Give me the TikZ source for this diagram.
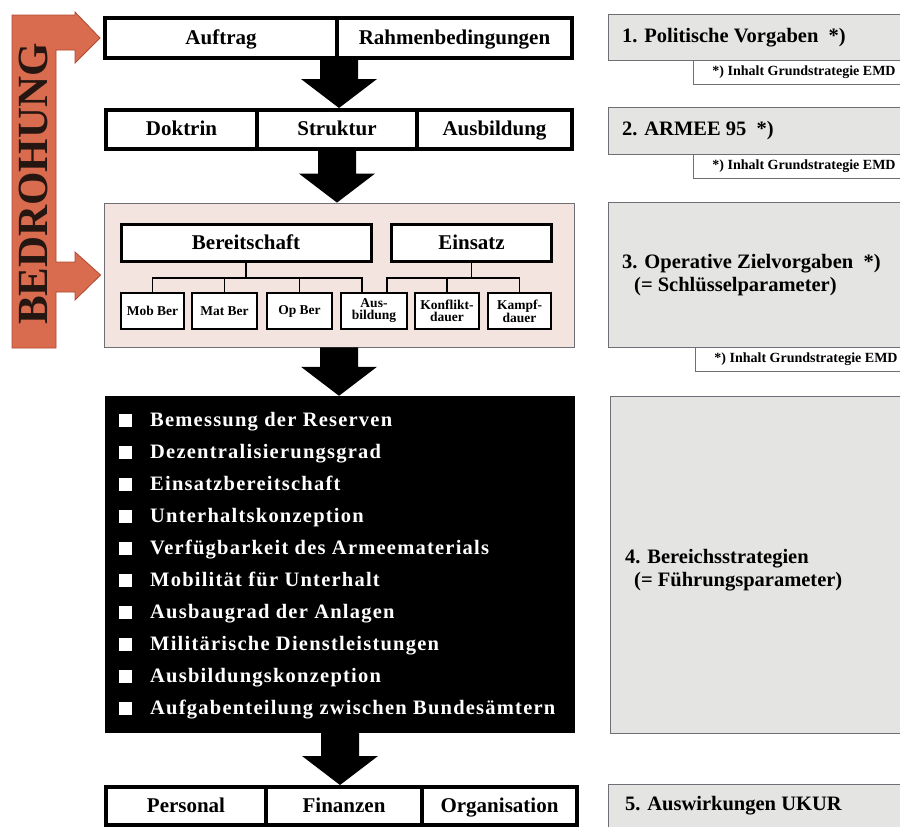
\documentclass[tikz,border=0pt]{standalone}
\usepackage{fontspec}
\setmainfont{Liberation Serif}
\newfontfamily\listfont[LetterSpace=6]{Liberation Serif}
\usetikzlibrary{calc}
\definecolor{bedrot}{HTML}{D96B4E}
\definecolor{bedrand}{HTML}{B04A33}
\definecolor{bedtext}{HTML}{261612}
\definecolor{rosa}{HTML}{F4E4E0}
\definecolor{grau}{HTML}{E4E4E2}
\definecolor{graurand}{HTML}{6E6E74}
\tikzset{
  zelle/.style={draw, line width=4pt, inner sep=0pt, fill=white, text height=15, text depth=3,
    font=\fontsize{21}{24}\selectfont\bfseries},
  oberbox/.style={zelle, line width=3pt, minimum height=37},
  klein/.style={draw, line width=2pt, inner sep=0pt, fill=white, minimum height=36,
    align=center, font=\fontsize{13.5}{12}\selectfont\bfseries},
  ast/.style={line width=1.5pt},
  panel/.style={draw=graurand, line width=0.8pt, fill=grau, anchor=north west, inner sep=0pt},
  notiz/.style={draw=graurand, line width=0.8pt, fill=white, anchor=north west, inner sep=0pt,
    minimum width=212, minimum height=24},
  paneltext/.style={anchor=west, align=left, inner sep=0pt,
    font=\fontsize{20.5}{23}\selectfont\bfseries},
  notiztext/.style={anchor=east, inner sep=0pt, font=\fontsize{14}{14}\selectfont\bfseries},
  punkt/.style={fill=white, minimum size=13, inner sep=0pt},
  listtext/.style={anchor=west, inner sep=0pt, text=white, text height=14, text depth=2,
    font=\listfont\bfseries\fontsize{20.5}{20}\selectfont}
}
\begin{document}
\begin{tikzpicture}[x=1pt,y=-1pt]
  \useasboundingbox[fill=white] (0,0) rectangle (900,827);
  % linke Spalte
  \node[zelle, minimum width=232, minimum height=40] (auftrag) at (221,38) {Auftrag};
  \node[zelle, minimum width=235, minimum height=40] (rahmen) at (454.5,38) {Rahmenbedingungen};
  \node[zelle, minimum width=151, minimum height=39] (doktrin) at (181.5,129.5) {Doktrin};
  \node[zelle, minimum width=160, minimum height=39] (struktur) at (337,129.5) {Struktur};
  \node[zelle, minimum width=155, minimum height=39] (ausbild) at (494.5,129.5) {Ausbildung};
  \node[draw=graurand, line width=0.8pt, fill=rosa, minimum width=470, minimum height=144] (pink) at (339,275) {};
  \node[oberbox, minimum width=250] (bereit) at (246,243) {Bereitschaft};
  \node[oberbox, minimum width=160] (einsatz) at (471.5,243) {Einsatz};
  \node[klein, minimum width=63] (mob) at (152.5,311) {Mob Ber};
  \node[klein, minimum width=65] (mat) at (224.5,311) {Mat Ber};
  \node[klein, minimum width=65] (op) at (299.5,311) {Op Ber};
  \node[klein, minimum width=66] (ausb) at (374,311) {Aus-\\bildung};
  \node[klein, minimum width=64] (konflikt) at (447,311) {Konflikt-\\dauer};
  \node[klein, minimum width=63] (kampf) at (519.5,311) {Kampf-\\dauer};
  \draw[ast] (bereit.south) -- ++(0,15) coordinate (bj);
  \foreach \n in {mob,mat,op}
    \draw[ast] (\n.north) |- (bj);
  \draw[ast] ([xshift=-12pt]ausb.north) |- (bj);
  \draw[ast] (einsatz.south) -- ++(0,15) coordinate (ej);
  \foreach \n in {konflikt,kampf}
    \draw[ast] (\n.north) |- (ej);
  \draw[ast] ([xshift=13pt]ausb.north) |- (ej);
  \node[fill=black, minimum width=470, minimum height=337, inner sep=0pt] (liste) at (340,564.5) {};
  \foreach \t [count=\i from 0] in {Bemessung der Reserven, Dezentralisierungsgrad,
      Einsatzbereitschaft, Unterhaltskonzeption, Verfügbarkeit des Armeematerials,
      Mobilität für Unterhalt, Ausbaugrad der Anlagen, Militärische Dienstleistungen,
      Ausbildungskonzeption, Aufgabenteilung zwischen Bundesämtern} {
    \node[punkt] (b\i) at (125,420+32.1*\i) {};
    \node[listtext] (t\i) at (150,420+32.1*\i) {\t};
  }
  \node[zelle, minimum width=160, minimum height=38] (personal) at (186,806) {Personal};
  \node[zelle, minimum width=156, minimum height=38] (finanzen) at (344,806) {Finanzen};
  \node[zelle, minimum width=155, minimum height=38] (organisation) at (499.5,806) {Organisation};
  % dicke Pfeile
  \foreach \a/\b in {auftrag.south east/struktur.north, struktur.south/pink.north,
      pink.south/liste.north, liste.south/finanzen.north}
    \fill let \p1=(\a), \p2=(\b) in
      (\x1-19pt,\y1) -- (\x1+19pt,\y1) -- (\x1+19pt,\y2+29pt) -- (\x1+38pt,\y2+29pt)
      -- (\x1,\y2) -- (\x1-38pt,\y2+29pt) -- (\x1-19pt,\y2+29pt) -- cycle;
  % Bedrohung
  \filldraw[fill=bedrot, draw=bedrand, line width=0.8pt]
    (12,15) -- (75,15) -- (75,12) -- ($(auftrag.west)+(-3,0)$) -- (75,63) -- (75,50) -- (56,50)
    -- (56,262) -- (75,262) -- (75,252) -- ($(pink.west)+(-3,0)$) -- (75,300) -- (75,292) -- (56,292)
    -- (56,348) -- (12,348) -- cycle;
  \node[rotate=90, text=bedtext, inner sep=0pt, font=\fontsize{43}{43}\selectfont\bfseries] (bedrohung) at (33,184) {BEDROHUNG};
  % rechte Spalte
  \node[panel, minimum width=297, minimum height=46] (p1) at (608,14) {};
  \node[paneltext] (p1t) at ($(p1.west)+(14,0)$) {1. Politische Vorgaben\enspace *)};
  \node[notiz] (n1) at (693,60) {};
  \node[notiztext] (n1t) at ($(n1.east)+(-10,0)$) {*) Inhalt Grundstrategie EMD};
  \node[panel, minimum width=297, minimum height=47] (p2) at (608,107) {};
  \node[paneltext] (p2t) at ($(p2.west)+(14,0)$) {2. ARMEE 95\enspace *)};
  \node[notiz] (n2) at (693,154) {};
  \node[notiztext] (n2t) at ($(n2.east)+(-10,0)$) {*) Inhalt Grundstrategie EMD};
  \node[panel, minimum width=297, minimum height=145] (p3) at (608,202) {};
  \node[paneltext] (p3t) at ($(p3.west)+(14,0)$) {3. Operative Zielvorgaben\enspace *)\\\hspace*{12pt}(= Schlüsselparameter)};
  \node[notiz] (n3) at (695,347) {};
  \node[notiztext] (n3t) at ($(n3.east)+(-10,0)$) {*) Inhalt Grundstrategie EMD};
  \node[panel, minimum width=295, minimum height=337] (p4) at (610,396) {};
  \node[paneltext] (p4t) at ($(p4.west)+(15,5)$) {4. Bereichsstrategien\\\hspace*{9pt}(= Führungsparameter)};
  \node[panel, minimum width=297, minimum height=50] (p5) at (608,784) {};
  \node[paneltext] (p5t) at (625,806) {5. Auswirkungen UKUR};
\end{tikzpicture}
\end{document}
